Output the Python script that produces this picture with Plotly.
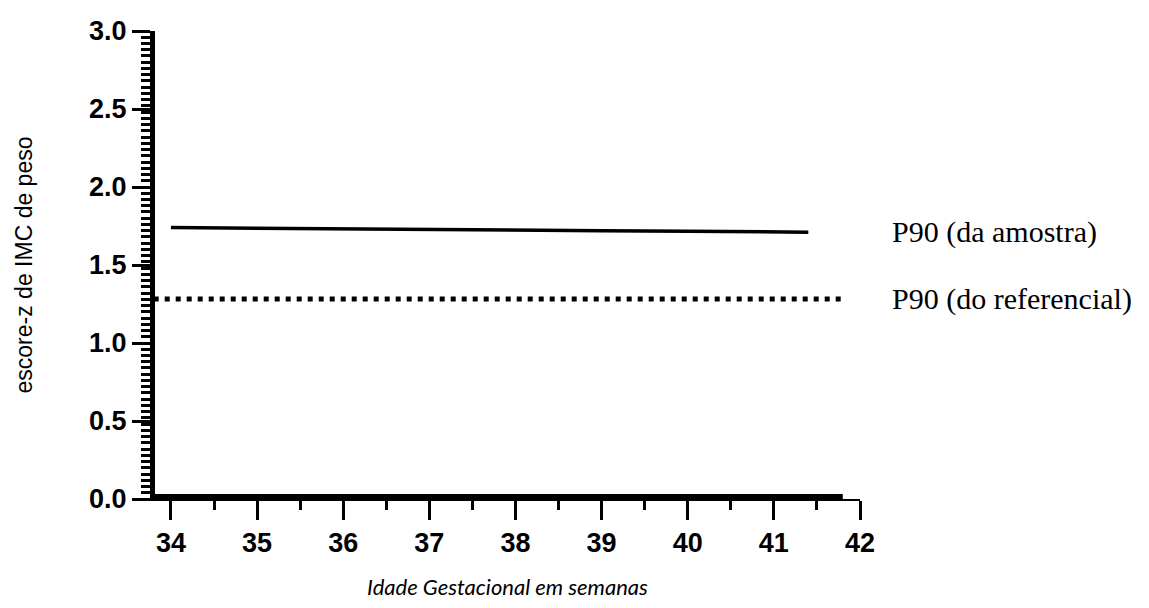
import plotly.graph_objects as go

# Idade gestacional (semanas) e escore-z do P90 da amostra
semanas_amostra = [34, 35, 36, 37, 38, 39, 40, 41, 41.4]
p90_amostra = [1.74, 1.735, 1.731, 1.727, 1.723, 1.72, 1.717, 1.713, 1.71]

# P90 do referencial (escore-z constante)
semanas_ref = [33.8, 41.8]
p90_referencial = [1.2816, 1.2816]

# Linha de base em zero
semanas_base = [33.8, 41.8]
base_zero = [0, 0]

x_ticks = [34, 35, 36, 37, 38, 39, 40, 41, 42]
y_ticks = [0.0, 0.5, 1.0, 1.5, 2.0, 2.5, 3.0]
y_tick_labels = ["0.0", "0.5", "1.0", "1.5", "2.0", "2.5", "3.0"]

rotulo_amostra = "P90 (da amostra)"
rotulo_ref = "P90 (do referencial)"

fig = go.Figure()

fig.add_trace(go.Scatter(
    x=semanas_base, y=base_zero, mode="lines",
    line=dict(color="black", width=10), hoverinfo="skip", showlegend=False,
))
fig.add_trace(go.Scatter(
    x=semanas_ref, y=p90_referencial, mode="lines",
    line=dict(color="black", width=5, dash="5px,6px"), showlegend=False,
))
fig.add_trace(go.Scatter(
    x=semanas_amostra, y=p90_amostra, mode="lines",
    line=dict(color="black", width=3.5), showlegend=False,
))

label_font = dict(family="Liberation Serif, Times New Roman, serif", size=30, color="black")
fig.add_annotation(x=x_ticks[-1], y=p90_amostra[-1], xref="x", yref="y",
                   text=rotulo_amostra, showarrow=False, xanchor="left", yanchor="middle",
                   xshift=30, font=label_font)
fig.add_annotation(x=x_ticks[-1], y=p90_referencial[-1], xref="x", yref="y",
                   text=rotulo_ref, showarrow=False, xanchor="left", yanchor="middle",
                   xshift=30, font=label_font)

tick_font = dict(family="Liberation Sans, Arial, sans-serif", size=27, color="black", weight="bold")

fig.update_xaxes(
    range=[33.815, 42], tickvals=x_ticks, ticktext=[str(v) for v in x_ticks],
    showline=True, linecolor="black", linewidth=2,
    ticks="outside", ticklen=19, tickwidth=3, tickcolor="black",
    minor=dict(dtick=0.5, tick0=34, ticks="outside", ticklen=9, tickwidth=3, tickcolor="black"),
    showgrid=False, zeroline=False, tickfont=tick_font,
    title=dict(text="<i>Idade Gestacional em semanas</i>",
               font=dict(family="Lato, Open Sans, sans-serif", size=22, color="black"),
               standoff=22),
)
fig.update_yaxes(
    range=[0, 3.0], tickvals=y_ticks, ticktext=y_tick_labels,
    showline=True, linecolor="black", linewidth=5,
    ticks="outside", ticklen=18, tickwidth=3, tickcolor="black",
    minor=dict(dtick=0.04, tick0=0, ticks="outside", ticklen=9, tickwidth=3, tickcolor="black"),
    showgrid=False, zeroline=False, tickfont=tick_font,
    title=dict(text="escore-z de IMC de peso",
               font=dict(family="Liberation Sans, Arial, sans-serif", size=23, color="black"),
               standoff=52),
)

fig.update_layout(
    width=1149, height=608,
    margin=dict(l=155, r=289, t=31, b=105),
    paper_bgcolor="white", plot_bgcolor="white",
)

fig.write_html("out.html")
